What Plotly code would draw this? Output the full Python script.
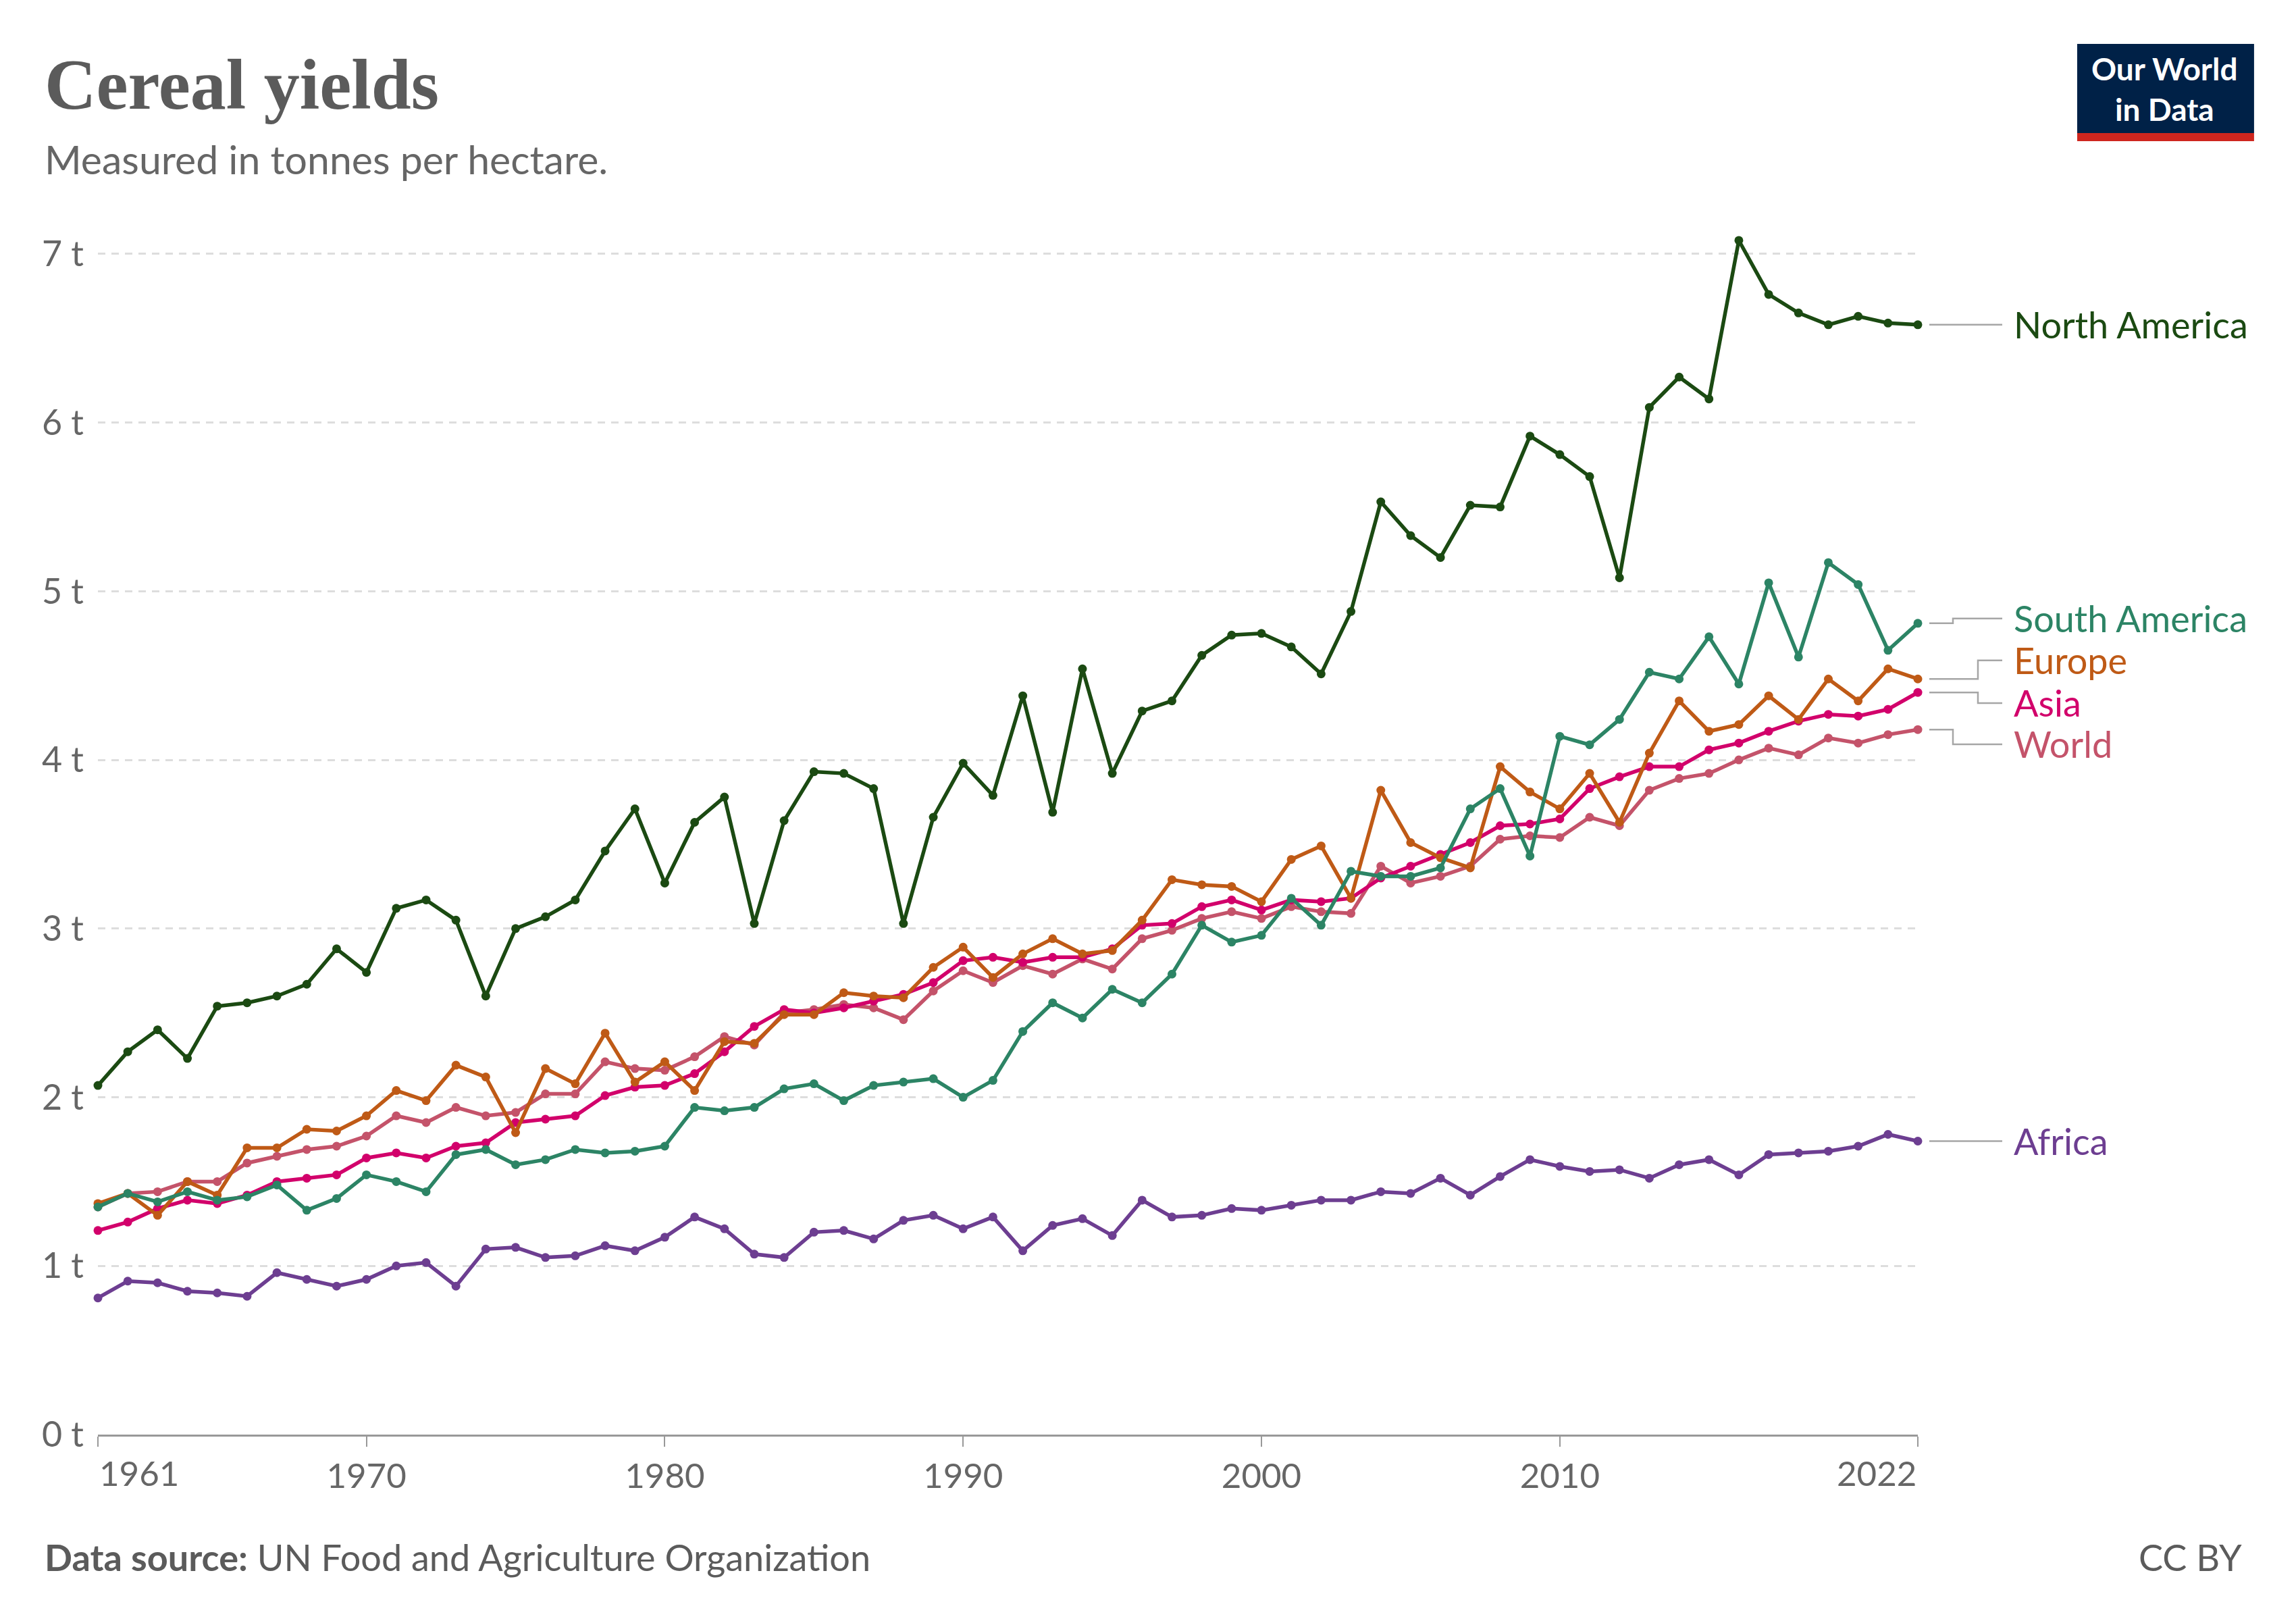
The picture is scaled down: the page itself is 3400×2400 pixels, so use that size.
import plotly.graph_objects as go

years = list(range(1961, 2023))

north_america = [2.07, 2.27, 2.40, 2.23, 2.54, 2.56, 2.60, 2.67, 2.88, 2.74, 3.12, 3.17, 3.05, 2.60, 3.00, 3.07,
                 3.17, 3.46, 3.71, 3.27, 3.63, 3.78, 3.03, 3.64, 3.93, 3.92, 3.83, 3.03, 3.66, 3.98, 3.79,
                 4.38, 3.69, 4.54, 3.92, 4.29, 4.35, 4.62, 4.74, 4.75, 4.67, 4.51, 4.88, 5.53, 5.33, 5.20,
                 5.51, 5.50, 5.92, 5.81, 5.68, 5.08, 6.09, 6.27, 6.14, 7.08, 6.76, 6.65, 6.58, 6.63, 6.59, 6.58]
south_america = [1.35, 1.43, 1.38, 1.44, 1.39, 1.41, 1.48, 1.33, 1.40, 1.54, 1.50, 1.44, 1.66, 1.69, 1.60, 1.63,
                 1.69, 1.67, 1.68, 1.71, 1.94, 1.92, 1.94, 2.05, 2.08, 1.98, 2.07, 2.09, 2.11, 2.00, 2.10,
                 2.39, 2.56, 2.47, 2.64, 2.56, 2.73, 3.02, 2.92, 2.96, 3.18, 3.02, 3.34, 3.31, 3.31, 3.36,
                 3.71, 3.83, 3.43, 4.14, 4.09, 4.24, 4.52, 4.48, 4.73, 4.45, 5.05, 4.61, 5.17, 5.04, 4.65, 4.81]
europe = [1.37, 1.43, 1.30, 1.50, 1.42, 1.70, 1.70, 1.81, 1.80, 1.89, 2.04, 1.98, 2.19, 2.12, 1.79, 2.17,
          2.08, 2.38, 2.09, 2.21, 2.04, 2.33, 2.32, 2.49, 2.49, 2.62, 2.60, 2.59, 2.77, 2.89, 2.71,
          2.85, 2.94, 2.85, 2.87, 3.05, 3.29, 3.26, 3.25, 3.16, 3.41, 3.49, 3.18, 3.82, 3.51, 3.42,
          3.36, 3.96, 3.81, 3.71, 3.92, 3.63, 4.04, 4.35, 4.17, 4.21, 4.38, 4.24, 4.48, 4.35, 4.54, 4.48]
asia = [1.21, 1.26, 1.34, 1.39, 1.37, 1.42, 1.50, 1.52, 1.54, 1.64, 1.67, 1.64, 1.71, 1.73, 1.85, 1.87,
        1.89, 2.01, 2.06, 2.07, 2.14, 2.27, 2.42, 2.52, 2.50, 2.53, 2.57, 2.61, 2.68, 2.81, 2.83,
        2.80, 2.83, 2.83, 2.88, 3.02, 3.03, 3.13, 3.17, 3.11, 3.17, 3.16, 3.18, 3.30, 3.37, 3.44,
        3.51, 3.61, 3.62, 3.65, 3.83, 3.90, 3.96, 3.96, 4.06, 4.10, 4.17, 4.23, 4.27, 4.26, 4.30, 4.40]
world = [1.35, 1.43, 1.44, 1.50, 1.50, 1.61, 1.65, 1.69, 1.71, 1.77, 1.89, 1.85, 1.94, 1.89, 1.91, 2.02,
         2.02, 2.21, 2.17, 2.16, 2.24, 2.36, 2.31, 2.50, 2.52, 2.55, 2.53, 2.46, 2.63, 2.75, 2.68,
         2.78, 2.73, 2.82, 2.76, 2.94, 2.99, 3.06, 3.10, 3.06, 3.13, 3.10, 3.09, 3.37, 3.27, 3.31,
         3.37, 3.53, 3.55, 3.54, 3.66, 3.61, 3.82, 3.89, 3.92, 4.00, 4.07, 4.03, 4.13, 4.10, 4.15, 4.18]
africa = [0.81, 0.91, 0.90, 0.85, 0.84, 0.82, 0.96, 0.92, 0.88, 0.92, 1.00, 1.02, 0.88, 1.10, 1.11, 1.05,
          1.06, 1.12, 1.09, 1.17, 1.29, 1.22, 1.07, 1.05, 1.20, 1.21, 1.16, 1.27, 1.30, 1.22, 1.29,
          1.09, 1.24, 1.28, 1.18, 1.39, 1.29, 1.30, 1.34, 1.33, 1.36, 1.39, 1.39, 1.44, 1.43, 1.52,
          1.42, 1.53, 1.63, 1.59, 1.56, 1.57, 1.52, 1.60, 1.63, 1.54, 1.66, 1.67, 1.68, 1.71, 1.78, 1.74]

y_tick_values = [0, 1, 2, 3, 4, 5, 6, 7]
y_tick_labels = ["0 t", "1 t", "2 t", "3 t", "4 t", "5 t", "6 t", "7 t"]
x_tick_values = [1961, 1970, 1980, 1990, 2000, 2010, 2022]

series = [
    ("Africa", africa, "#6d3e91"),
    ("World", world, "#c4536a"),
    ("Asia", asia, "#d2006b"),
    ("Europe", europe, "#bf5a16"),
    ("South America", south_america, "#2c8465"),
    ("North America", north_america, "#1b4a12"),
]

# label layout (y positions of end labels, in t, after de-overlap) and elbow x positions (screen px)
label_y = {"North America": None, "South America": 4.838, "Europe": 4.590,
           "Asia": 4.337, "World": 4.093, "Africa": None}
elbow_px = {"South America": 2892, "Europe": 2929, "Asia": 2929, "World": 2892}

OFF = 8  # default page body margin
W, H = 3400 - OFF, 2400 - OFF
L, R = 144.5, 2840      # screen px
T, B = 326, 2124        # screen px
YMAX = 7.2
TEXT = "#5b5b5b"


def px(x):
    return (x - L) / (R - L)


def py(y):
    return (B - y) / (B - T)


fig = go.Figure()
for name, vals, col in series:
    fig.add_trace(go.Scatter(
        x=years, y=vals, mode="lines+markers", name=name,
        line=dict(color=col, width=5.5),
        marker=dict(color=col, size=13),
        cliponaxis=False, showlegend=False,
    ))

annotations = []
shapes = []
for name, vals, col in series:
    v_end = vals[-1]
    v_lab = label_y[name] if label_y[name] is not None else v_end
    y0 = v_end / YMAX
    y1 = v_lab / YMAX
    if name in elbow_px:
        xe = px(elbow_px[name])
        path = f"M {px(2857)},{y0} L {xe},{y0} L {xe},{y1} L {px(2965)},{y1}"
    else:
        path = f"M {px(2857)},{y0} L {px(2965)},{y1}"
    shapes.append(dict(type="path", xref="paper", yref="paper", path=path,
                       line=dict(color="#a6a6a6", width=2.5)))
    annotations.append(dict(xref="paper", yref="paper", x=px(2980), y=y1, text=name,
                            xanchor="left", yanchor="middle", showarrow=False,
                            font=dict(family="Lato", size=54, color=col)))

annotations += [
    dict(xref="paper", yref="paper", x=px(63), y=py(125), text="<b>Cereal yields</b>",
         xanchor="left", yanchor="middle", showarrow=False,
         font=dict(family="Liberation Serif", size=106, color=TEXT)),
    dict(xref="paper", yref="paper", x=px(63), y=py(236), text="Measured in tonnes per hectare.",
         xanchor="left", yanchor="middle", showarrow=False,
         font=dict(family="Lato", size=59, color="#666666")),
    dict(xref="paper", yref="paper", x=px(63), y=py(2305),
         text="<b>Data source:</b> UN Food and Agriculture Organization",
         xanchor="left", yanchor="middle", showarrow=False,
         font=dict(family="Lato", size=54, color=TEXT)),
    dict(xref="paper", yref="paper", x=px(3322), y=py(2305), text="CC BY",
         xanchor="right", yanchor="middle", showarrow=False,
         font=dict(family="Lato", size=54, color=TEXT)),
    dict(xref="paper", yref="paper", x=px(3206), y=py(131), text="<b>Our World<br>in Data</b>",
         xanchor="center", yanchor="middle", showarrow=False, align="center",
         font=dict(family="Lato", size=46, color="white")),
    dict(xref="x", yref="paper", x=1961, y=py(2180), text="1961",
         xanchor="left", yanchor="middle", showarrow=False,
         font=dict(family="Lato", size=51, color="#666666")),
    dict(xref="x", yref="paper", x=2022, y=py(2180), text="2022",
         xanchor="right", yanchor="middle", showarrow=False,
         font=dict(family="Lato", size=51, color="#666666")),
]

shapes += [
    dict(type="rect", xref="paper", yref="paper", x0=px(3076), x1=px(3338), y0=py(65), y1=py(197),
         fillcolor="#002147", line=dict(width=0), layer="below"),
    dict(type="rect", xref="paper", yref="paper", x0=px(3076), x1=px(3338), y0=py(197), y1=py(209),
         fillcolor="#ce261e", line=dict(width=0), layer="below"),
]

fig.update_layout(
    width=W, height=H,
    margin=dict(l=L - OFF, r=W - (R - OFF), t=T - OFF, b=H - (B - OFF), pad=0),
    paper_bgcolor="white", plot_bgcolor="white",
    annotations=annotations, shapes=shapes,
    font=dict(family="Lato", color="#666666"),
)
fig.update_xaxes(
    range=[1961, 2022], tickvals=x_tick_values,
    ticktext=["", "1970", "1980", "1990", "2000", "2010", ""],
    ticks="outside", ticklen=15, tickwidth=2, tickcolor="#999999",
    showline=True, linecolor="#999999", linewidth=3, showgrid=False, zeroline=False,
    tickfont=dict(family="Lato", size=51, color="#666666"),
)
fig.update_yaxes(
    range=[0, YMAX], tickvals=y_tick_values, ticktext=y_tick_labels,
    showgrid=True, gridcolor="#dddddd", gridwidth=2.5, griddash="11px,9px",
    zeroline=False, showline=False, ticks="", ticklabelstandoff=20,
    tickfont=dict(family="Lato", size=52, color="#666666"),
)

fig.write_html("out.html")
